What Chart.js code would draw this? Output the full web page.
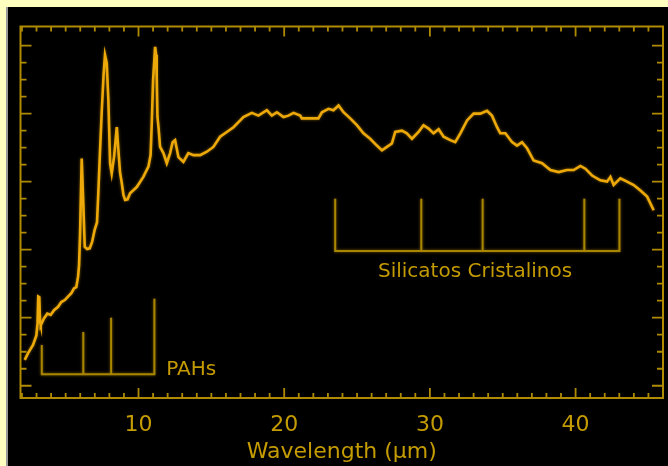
<!DOCTYPE html>
<html><head><meta charset="utf-8">
<script src="https://cdn.jsdelivr.net/npm/chart.js@4"></script>
<style>
html,body{margin:0;padding:0;background:#ffffc0;width:668px;height:466px;overflow:hidden}
#wrap{position:absolute;left:8px;top:7px;width:660px;height:459px;background:#000}
#edge{position:absolute;left:6px;top:7px;width:2px;height:459px;background:#9a9a9a}
</style></head><body>
<div id="edge"></div>
<div id="wrap"><canvas id="c" width="660" height="459"></canvas></div>
<script>
const wavelength = [2.19,2.42,2.76,2.99,3.07,3.12,3.19,3.24,3.29,3.51,3.74,3.97,4.20,4.48,4.70,4.94,5.16,5.39,5.57,5.73,5.85,5.92,5.99,6.10,6.21,6.31,6.47,6.65,6.81,6.99,7.15,7.24,7.36,7.48,7.60,7.70,7.82,7.93,8.05,8.16,8.32,8.51,8.62,8.73,8.85,8.97,9.08,9.25,9.42,9.88,10.33,10.68,10.83,10.91,11.00,11.14,11.21,11.25,11.30,11.38,11.48,11.71,11.94,12.17,12.34,12.51,12.74,13.08,13.42,13.77,14.23,14.69,15.14,15.60,16.06,16.52,16.98,17.20,17.78,18.23,18.81,19.15,19.50,19.95,20.29,20.64,21.10,21.21,21.78,22.35,22.59,23.04,23.38,23.73,24.07,24.53,24.99,25.44,25.90,26.36,26.71,27.05,27.39,27.62,28.08,28.42,28.77,29.22,29.56,29.91,30.25,30.60,30.94,31.40,31.74,32.09,32.55,33.00,33.46,33.92,34.26,34.61,34.83,35.18,35.64,35.98,36.32,36.67,37.12,37.70,38.27,38.84,39.41,39.87,40.33,40.67,41.13,41.70,42.16,42.39,42.61,43.07,43.53,43.99,44.45,44.91,45.36];
const flux = [0.38,0.48,0.60,0.74,0.92,1.31,1.30,0.94,0.89,0.99,1.06,1.04,1.11,1.16,1.23,1.26,1.31,1.36,1.43,1.45,1.60,1.77,2.24,3.34,2.68,2.04,2.01,2.02,2.11,2.29,2.40,2.83,3.46,4.05,4.56,4.86,4.74,4.20,3.27,3.12,3.36,3.80,3.46,3.14,2.98,2.80,2.73,2.74,2.83,2.92,3.07,3.22,3.39,3.86,4.49,4.98,4.86,4.54,3.95,3.78,3.51,3.42,3.27,3.42,3.58,3.61,3.36,3.29,3.42,3.39,3.39,3.44,3.51,3.66,3.73,3.80,3.90,3.95,4.01,3.97,4.05,3.97,4.02,3.95,3.97,4.01,3.97,3.93,3.93,3.93,4.02,4.07,4.05,4.12,4.02,3.93,3.83,3.71,3.63,3.53,3.46,3.51,3.56,3.73,3.75,3.71,3.63,3.73,3.83,3.78,3.71,3.77,3.66,3.61,3.58,3.71,3.90,4.00,4.00,4.04,3.97,3.80,3.71,3.71,3.58,3.53,3.58,3.49,3.31,3.27,3.17,3.14,3.17,3.17,3.23,3.19,3.09,3.02,3.00,3.07,2.95,3.05,3.00,2.95,2.87,2.78,2.58];
const xTickLabels = [10, 20, 30, 40];
const xRange = [1.9, 46.0];
const yRange = [-0.18, 5.28];
const xMinorStep = 1, xMajorStep = 10;
const yMinorStep = 0.25, yMajorStep = 1, yTickMax = 5;
const pahBands = [3.36, 6.21, 8.12, 11.09];
const pahTops = [0.60, 0.79, 1.00, 1.28];
const pahBase = 0.17;
const silBands = [23.50, 29.41, 33.62, 40.60, 43.01];
const silTops = [2.75, 2.75, 2.75, 2.75, 2.75];
const silBase = 1.98;
const pahLabel = {text: 'PAHs', x: 11.9, y: 0.23};
const silLabel = {text: 'Silicatos Cristalinos', x: 33.1, y: 1.67};

const AXIS = '#b08b00', TEXT = '#c49b00', LINE = '#eda90a', MARK = '#a88600';

function bracket(xs, tops, base) {
  const n = xs.length;
  const pts = [{x: xs[0], y: tops[0]}, {x: xs[0], y: base}, {x: xs[n-1], y: base}, {x: xs[n-1], y: tops[n-1]}];
  for (let i = 1; i < n - 1; i++) {
    pts.push({x: xs[i], y: null});
    pts.push({x: xs[i], y: base}, {x: xs[i], y: tops[i]});
  }
  return pts;
}

const glowPlugin = {
  id: 'glow',
  beforeDatasetsDraw(chart) {
    const ctx = chart.ctx;
    ctx.save();
    ctx.shadowColor = 'rgba(230,165,10,0.55)';
    ctx.shadowBlur = 3;
  },
  afterDatasetsDraw(chart) { chart.ctx.restore(); }
};

const framePlugin = {
  id: 'frame',
  afterDraw(chart) {
    const {ctx, chartArea: a, scales: {x, y}} = chart;
    ctx.save();
    ctx.strokeStyle = AXIS;
    ctx.lineWidth = 2;
    ctx.strokeRect(a.left, a.top, a.right - a.left, a.bottom - a.top);
    ctx.lineWidth = 1.8;
    ctx.beginPath();
    for (let v = Math.ceil(xRange[0]); v <= Math.floor(xRange[1]); v += xMinorStep) {
      const px = x.getPixelForValue(v);
      const len = v % xMajorStep === 0 ? 10 : 5;
      ctx.moveTo(px, a.bottom); ctx.lineTo(px, a.bottom - len);
      ctx.moveTo(px, a.top); ctx.lineTo(px, a.top + len);
    }
    for (let k = 0; k * yMinorStep <= yTickMax + 1e-9; k++) {
      const v = k * yMinorStep;
      const py = y.getPixelForValue(v);
      const len = Math.abs(v / yMajorStep - Math.round(v / yMajorStep)) < 1e-6 ? 11 : 6;
      ctx.moveTo(a.left, py); ctx.lineTo(a.left + len, py);
      ctx.moveTo(a.right, py); ctx.lineTo(a.right - len, py);
    }
    ctx.stroke();
    ctx.fillStyle = TEXT;
    ctx.font = '20px "DejaVu Sans"';
    ctx.textBaseline = 'middle';
    ctx.textAlign = 'left';
    ctx.fillText(pahLabel.text, x.getPixelForValue(pahLabel.x), y.getPixelForValue(pahLabel.y));
    ctx.textAlign = 'center';
    ctx.fillText(silLabel.text, x.getPixelForValue(silLabel.x), y.getPixelForValue(silLabel.y));
    ctx.restore();
  }
};

new Chart(document.getElementById('c'), {
  type: 'line',
  data: {
    datasets: [
      {data: wavelength.map((w, i) => ({x: w, y: flux[i]})), borderColor: LINE, borderWidth: 2.6, pointRadius: 0, tension: 0},
      {data: bracket(pahBands, pahTops, pahBase), borderColor: MARK, borderWidth: 2, pointRadius: 0, tension: 0, spanGaps: false},
      {data: bracket(silBands, silTops, silBase), borderColor: MARK, borderWidth: 2, pointRadius: 0, tension: 0, spanGaps: false}
    ]
  },
  options: {
    responsive: false,
    animation: false,
    devicePixelRatio: 1,
    layout: {padding: {left: 12.5, top: 19.5, right: 5, bottom: 0}},
    plugins: {legend: {display: false}, tooltip: {enabled: false}},
    scales: {
      x: {
        type: 'linear', min: xRange[0], max: xRange[1], position: 'bottom',
        grid: {display: false, drawTicks: false}, border: {display: false},
        afterBuildTicks: s => { s.ticks = xTickLabels.map(v => ({value: v})); },
        afterFit: s => { s.height = 68; },
        ticks: {color: TEXT, font: {family: 'DejaVu Sans', size: 22}, padding: 14, maxRotation: 0, autoSkip: false},
        title: {display: true, text: 'Wavelength (μm)', color: TEXT, font: {family: 'DejaVu Sans', size: 22}, padding: {top: 0, bottom: 1}}
      },
      y: {type: 'linear', display: false, min: yRange[0], max: yRange[1]}
    }
  },
  plugins: [glowPlugin, framePlugin]
});
</script>
</body></html>
